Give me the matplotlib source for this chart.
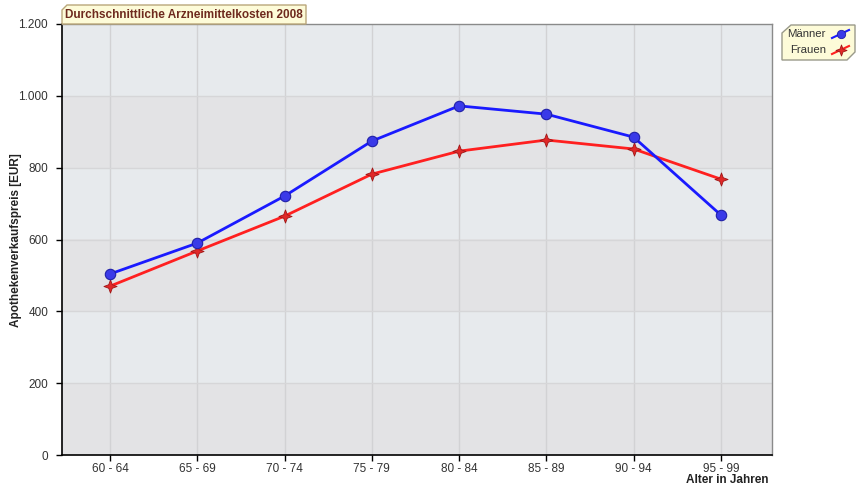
import matplotlib
matplotlib.use("Agg")
import matplotlib.pyplot as plt
import numpy as np
from matplotlib.path import Path
from matplotlib.patches import Polygon

plt.rcParams['font.family'] = ['Liberation Sans', 'DejaVu Sans']

age_groups = ["60 - 64", "65 - 69", "70 - 74", "75 - 79", "80 - 84", "85 - 89", "90 - 94", "95 - 99"]
maenner = [504, 590, 721, 874, 972, 949, 885, 668]
frauen = [470, 568, 665, 782, 846, 877, 852, 768]
y_ticks = [0, 200, 400, 600, 800, 1000, 1200]
y_tick_labels = ["0", "200", "400", "600", "800", "1.000", "1.200"]

title = "Durchschnittliche Arzneimittelkosten 2008"
y_label = "Apothekenverkaufspreis [EUR]"
x_label = "Alter in Jahren"

W, H = 856, 488
fig = plt.figure(figsize=(W / 100, H / 100), dpi=100)
ax = fig.add_axes([62 / W, 1 - 455 / H, 710 / W, 431 / H])

x = np.arange(len(age_groups))
ax.set_xlim(-0.55, len(age_groups) - 1 + 0.585)
ax.set_ylim(0, 1200)

# alternating horizontal bands
band_light = "#e7eaed"
band_dark = "#e3e3e5"
for i, lo in enumerate(y_ticks[:-1]):
    ax.axhspan(lo, y_ticks[i + 1], color=band_dark if i % 2 == 0 else band_light, zorder=0, lw=0)

for xi in x:
    ax.axvline(xi, color="#d2d2d4", lw=1, zorder=1)
for yv in y_ticks[1:-1]:
    ax.axhline(yv, color="#d6d6d8", lw=1, zorder=1)

# four-pointed star marker
pts = []
for k in range(8):
    ang = np.pi / 2 + k * np.pi / 4
    r = 1.0 if k % 2 == 0 else 0.38
    pts.append((r * np.cos(ang), r * np.sin(ang)))
pts.append(pts[0])
star4 = Path(pts, [Path.MOVETO] + [Path.LINETO] * 7 + [Path.CLOSEPOLY])

ax.plot(x, maenner, color="#1a1aff", lw=2, marker="o", ms=7.5,
        mfc="#3a3ae8", mec="#2020a8", mew=0.8, zorder=4, label="Männer")
ax.plot(x, frauen, color="#ff2020", lw=2, marker=star4, ms=9.5,
        mfc="#e02828", mec="#a01818", mew=0.6, zorder=3, label="Frauen")

ax.set_xticks(x)
ax.set_xticklabels(age_groups, fontsize=8.5, color="#333333")
ax.set_yticks(y_ticks)
ax.set_yticklabels(y_tick_labels, fontsize=8.5, color="#333333")
ax.tick_params(axis="both", length=4, width=1, color="#000000", pad=6)
ax.tick_params(axis="x", pad=1.5)

for side in ["left", "bottom"]:
    ax.spines[side].set_color("#000000")
    ax.spines[side].set_linewidth(1.2)
for side in ["top", "right"]:
    ax.spines[side].set_color("#8a8a8a")
    ax.spines[side].set_linewidth(1)

fig.text(16 / W, 1 - 240 / H, y_label, fontsize=8.5, fontweight="bold", color="#222222",
         rotation=90, ha="center", va="center")
fig.text(727 / W, 1 - 480 / H, x_label, fontsize=8.5, fontweight="bold",
         color="#222222", ha="center", va="center")

# title tab with clipped top-left corner
def tab(x0, y0, x1, y1, cut):
    verts = [(x0, y1), (x0, y0 + cut), (x0 + cut, y0), (x1, y0), (x1, y1)]
    return [(vx / W, 1 - vy / H) for vx, vy in verts]

fig.patches.append(Polygon(tab(62, 5, 306, 24, 5), closed=True, transform=fig.transFigure,
                           facecolor="#fdfbd8", edgecolor="#b9a67a", lw=1, zorder=5))
fig.text(184 / W, 1 - 15 / H, title, fontsize=8.5, fontweight="bold", color="#6e2a1e",
         ha="center", va="center", zorder=6)

# legend box
verts = [(782, 60), (782, 33), (791, 25), (855, 25), (855, 52), (847, 60)]
fig.patches.append(Polygon([(vx / W, 1 - vy / H) for vx, vy in verts], closed=True,
                           transform=fig.transFigure, facecolor="#fdfbd8",
                           edgecolor="#9a9a8a", lw=1, zorder=5))
leg_items = [("Männer", "#1a1aff", "o", "#3a3ae8", "#2020a8", 6),
             ("Frauen", "#ff2020", star4, "#e02828", "#a01818", 8)]
for i, (name, lc, mk, mfc, mec, ms) in enumerate(leg_items):
    yy = 1 - (34 + i * 16) / H
    fig.text(826 / W, yy, name, fontsize=8.2, color="#333333", ha="right", va="center", zorder=6)
    fig.add_artist(plt.Line2D([832 / W, 849 / W], [yy - 4 / H, yy + 4 / H],
                              transform=fig.transFigure, color=lc, lw=1.5, zorder=6))
    fig.add_artist(plt.Line2D([840.5 / W], [yy], transform=fig.transFigure, marker=mk,
                              ms=ms, mfc=mfc, mec=mec, mew=0.6, zorder=7))

fig.savefig("out.png", dpi=100, facecolor="white")
